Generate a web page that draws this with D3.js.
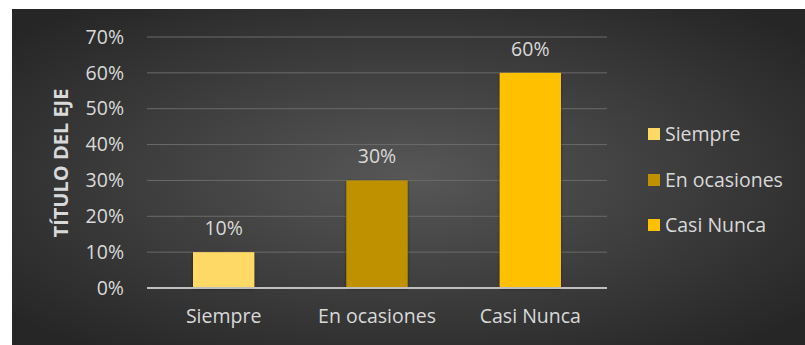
<!DOCTYPE html>
<html>
<head>
<meta charset="utf-8">
<script src="https://cdn.jsdelivr.net/npm/d3@7"></script>
<style>
  html, body { margin: 0; padding: 0; background: #ffffff; }
  svg { display: block; }
  text { font-family: "Open Sans", "Noto Sans", sans-serif; }
</style>
</head>
<body>
<svg id="chart" width="805" height="345"></svg>
<script>
// Chart data
const categories = ["Siempre", "En ocasiones", "Casi Nunca"];
const values = [0.10, 0.30, 0.60];
const barColors = ["#FFD966", "#BF9000", "#FFC000"];
const yTicks = [0, 0.1, 0.2, 0.3, 0.4, 0.5, 0.6, 0.7];
const axisTitle = "TÍTULO DEL EJE";

const svg = d3.select("#chart");
const W = 805, H = 345;
const frame = { x: 12, y: 9, w: W - 12, h: H - 9 };
const plot = { left: 147, right: 607, top: 37, bottom: 288 };
const textColor = "#d9d9d9";
const fontSize = "19.5px";

const defs = svg.append("defs");
const bg = defs.append("radialGradient").attr("id", "bgGrad")
  .attr("cx", "50%").attr("cy", "50%").attr("r", "65%");
bg.append("stop").attr("offset", "0%").attr("stop-color", "#575757");
bg.append("stop").attr("offset", "100%").attr("stop-color", "#262626");

const shadow = defs.append("filter").attr("id", "barShadow")
  .attr("x", "-20%").attr("y", "-20%").attr("width", "140%").attr("height", "140%");
shadow.append("feDropShadow").attr("dx", 0).attr("dy", 1)
  .attr("stdDeviation", 1.5).attr("flood-color", "#000").attr("flood-opacity", 0.45);

// Background frame
svg.append("rect")
  .attr("x", frame.x).attr("y", frame.y)
  .attr("width", frame.w).attr("height", frame.h)
  .attr("fill", "url(#bgGrad)");

const x = d3.scaleBand().domain(categories)
  .range([plot.left, plot.right]).paddingInner(0.6).paddingOuter(0.3);
const y = d3.scaleLinear().domain([0, 0.7]).range([plot.bottom, plot.top]);
const pct = d3.format(".0%");

// Gridlines
svg.append("g").selectAll("line")
  .data(yTicks.filter(t => t > 0))
  .join("line")
  .attr("x1", plot.left).attr("x2", plot.right)
  .attr("y1", d => y(d)).attr("y2", d => y(d))
  .attr("stroke", "#6a6a6a").attr("stroke-width", 1);

// Y axis labels
const yAxis = d3.axisLeft(y).tickValues(yTicks).tickFormat(pct).tickSize(0).tickPadding(23);
const gy = svg.append("g").attr("transform", `translate(${plot.left},0)`).call(yAxis);
gy.select(".domain").remove();
gy.selectAll("text")
  .attr("fill", textColor).style("font-size", fontSize);

// Bars
svg.append("g").selectAll("rect")
  .data(values)
  .join("rect")
  .attr("x", (d, i) => x(categories[i]))
  .attr("y", d => y(d))
  .attr("width", x.bandwidth())
  .attr("height", d => y(0) - y(d))
  .attr("fill", (d, i) => barColors[i])
  .attr("filter", "url(#barShadow)");

// Baseline
svg.append("line")
  .attr("x1", plot.left).attr("x2", plot.right)
  .attr("y1", y(0)).attr("y2", y(0))
  .attr("stroke", "#bfbfbf").attr("stroke-width", 2);

// Value labels
svg.append("g").selectAll("text")
  .data(values)
  .join("text")
  .attr("x", (d, i) => x(categories[i]) + x.bandwidth() / 2)
  .attr("y", d => y(d) - 24)
  .attr("dy", "0.35em")
  .attr("text-anchor", "middle")
  .attr("fill", textColor).style("font-size", fontSize)
  .text(d => pct(d));

// X axis labels
const xAxis = d3.axisBottom(x).tickSize(0).tickPadding(21);
const gx = svg.append("g").attr("transform", `translate(0,${plot.bottom})`).call(xAxis);
gx.select(".domain").remove();
gx.selectAll("text")
  .attr("fill", textColor).style("font-size", fontSize);

// Axis title
svg.append("text")
  .attr("transform", `translate(61,163) rotate(-90)`)
  .attr("text-anchor", "middle").attr("dy", "0.35em")
  .attr("fill", textColor)
  .style("font-size", "20px").style("font-weight", "bold")
  .text(axisTitle);

// Legend
const legend = svg.append("g").attr("transform", "translate(648,0)");
const legendY = [134, 180, 225];
const item = legend.selectAll("g").data(categories).join("g")
  .attr("transform", (d, i) => `translate(0,${legendY[i]})`);
item.append("rect")
  .attr("x", 0).attr("y", -6).attr("width", 12).attr("height", 12)
  .attr("fill", (d, i) => barColors[i]);
item.append("text")
  .attr("x", 17).attr("dy", "0.35em")
  .attr("fill", textColor).style("font-size", fontSize)
  .text(d => d);
</script>
</body>
</html>
